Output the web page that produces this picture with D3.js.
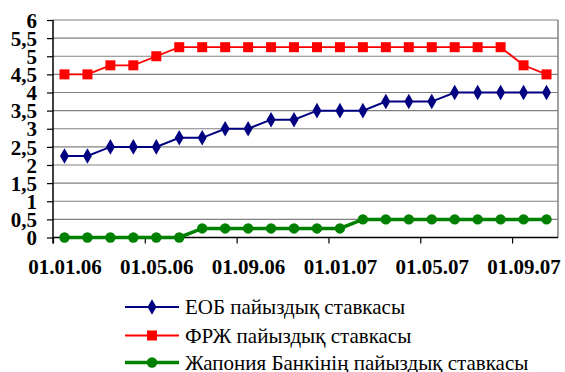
<!DOCTYPE html>
<html>
<head>
<meta charset="utf-8">
<script src="https://cdn.jsdelivr.net/npm/d3@7"></script>
<style>
  html, body { margin: 0; padding: 0; background: #fff; }
  svg { display: block; }
</style>
</head>
<body>
<svg id="chart" width="565" height="372"></svg>
<script>
// Monthly policy rates, January 2006 – October 2007 (one value per month)
const months = ["01.06","02.06","03.06","04.06","05.06","06.06","07.06","08.06","09.06","10.06","11.06","12.06",
                "01.07","02.07","03.07","04.07","05.07","06.07","07.07","08.07","09.07","10.07"];
const ecbRate = [2.25,2.25,2.5,2.5,2.5,2.75,2.75,3.0,3.0,3.25,3.25,3.5,3.5,3.5,3.75,3.75,3.75,4.0,4.0,4.0,4.0,4.0];
const fedRate = [4.5,4.5,4.75,4.75,5.0,5.25,5.25,5.25,5.25,5.25,5.25,5.25,5.25,5.25,5.25,5.25,5.25,5.25,5.25,5.25,4.75,4.5];
const bojRate = [0,0,0,0,0,0,0.25,0.25,0.25,0.25,0.25,0.25,0.25,0.5,0.5,0.5,0.5,0.5,0.5,0.5,0.5,0.5];
const tickMonths = [0, 4, 8, 12, 16, 20];
const tickLabels = ["01.01.06","01.05.06","01.09.06","01.01.07","01.05.07","01.09.07"];
const yTicks = [0,0.5,1,1.5,2,2.5,3,3.5,4,4.5,5,5.5,6];
const seriesNames = ["ЕОБ пайыздық ставкасы","ФРЖ пайыздық ставкасы","Жапония Банкінің пайыздық ставкасы"];

const serif = "'Liberation Serif', 'Times New Roman', Times, 'DejaVu Serif', serif";

const svg = d3.select("#chart");
const plotLeft = 53, plotRight = 558, plotTop = 20, plotBottom = 237.5;

const x = d3.scaleLinear().domain([0, months.length]).range([plotLeft, plotRight]);
const y = d3.scaleLinear().domain([0, 6]).range([plotBottom, plotTop]);
const fmt = v => d3.format("")(v).replace(".", ",");

const styleLabels = sel => sel.selectAll("text")
  .style("font-family", serif).style("font-weight", "bold").style("font-size", "21px").attr("fill", "#000");

// horizontal gridlines
svg.append("g").selectAll("line").data(yTicks.filter(v => v > 0)).join("line")
  .attr("x1", plotLeft).attr("x2", plotRight)
  .attr("y1", d => y(d)).attr("y2", d => y(d))
  .attr("stroke", "#808080").attr("stroke-width", 1.2);

// right border of plot area
svg.append("line").attr("x1", plotRight).attr("x2", plotRight).attr("y1", plotTop).attr("y2", plotBottom)
  .attr("stroke", "#808080").attr("stroke-width", 1.5);

// y axis
const yAxis = svg.append("g").attr("transform", `translate(${plotLeft},0)`)
  .call(d3.axisLeft(y).tickValues(yTicks).tickFormat(fmt).tickSize(6).tickPadding(10))
  .call(styleLabels);
yAxis.select(".domain").attr("stroke", "#000").attr("stroke-width", 1.5).attr("d", `M0,${plotTop}V${plotBottom + 6}`);
yAxis.selectAll(".tick line").attr("stroke", "#000").attr("stroke-width", 1.2);
yAxis.selectAll(".tick text").attr("dy", "0.34em");

// x axis: tick marks at month boundaries
const xAxis = svg.append("g").attr("transform", `translate(0,${plotBottom})`)
  .call(d3.axisBottom(x).tickValues(tickMonths).tickFormat("").tickSize(6));
xAxis.select(".domain").attr("stroke", "#000").attr("stroke-width", 1.5).attr("d", `M${plotLeft},0H${plotRight}`);
xAxis.selectAll(".tick line").attr("stroke", "#000").attr("stroke-width", 1.2);

// x labels centred on their month
svg.append("g").attr("transform", `translate(0,${plotBottom})`)
  .call(d3.axisBottom(x).tickValues(tickMonths.map(m => m + 0.5))
    .tickFormat((d, i) => tickLabels[i]).tickSize(0).tickPadding(22))
  .call(styleLabels)
  .call(g => g.select(".domain").remove());

const series = [
  { name: seriesNames[0], values: ecbRate, color: "#000080", width: 2,   marker: d3.symbolDiamond, size: 70 },
  { name: seriesNames[1], values: fedRate, color: "#ff0000", width: 1.8, marker: d3.symbolSquare,  size: 100 },
  { name: seriesNames[2], values: bojRate, color: "#008000", width: 3.5, marker: d3.symbolCircle,  size: 85 }
];

const line = d3.line().x((d, i) => x(i + 0.5)).y(d => y(d));

series.forEach(s => {
  svg.append("path").datum(s.values).attr("d", line)
    .attr("fill", "none").attr("stroke", s.color).attr("stroke-width", s.width);
  svg.append("g").selectAll("path").data(s.values).join("path")
    .attr("transform", (d, i) => `translate(${x(i + 0.5)},${y(d)})`)
    .attr("d", d3.symbol(s.marker, s.size))
    .attr("fill", s.color);
});

// legend
const legend = svg.append("g");
const legendY = [307, 335.5, 362.5];
series.forEach((s, i) => {
  const g = legend.append("g").attr("transform", `translate(0,${legendY[i]})`);
  g.append("line").attr("x1", 125).attr("x2", 179).attr("stroke", s.color).attr("stroke-width", s.width);
  g.append("path").attr("transform", "translate(152,0)").attr("d", d3.symbol(s.marker, s.size)).attr("fill", s.color);
  g.append("text").attr("x", 185).attr("y", 7).text(s.name)
    .style("font-family", serif).style("font-size", "21px").attr("fill", "#000");
});
</script>
</body>
</html>
